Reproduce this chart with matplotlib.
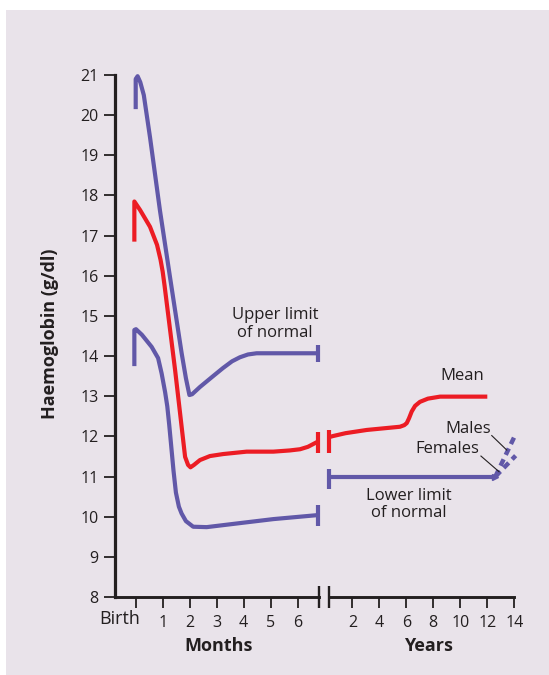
import matplotlib
matplotlib.use("Agg")
import matplotlib.pyplot as plt
from matplotlib.patches import Rectangle

plt.rcParams['font.family'] = ['Open Sans', 'DejaVu Sans']

# ---------------- data ----------------
# Months segment (month, g/dl)
upper_m = [0.0, 0.0, 0.07, 0.17, 0.30, 0.53, 0.90, 1.27, 1.70, 1.86, 1.99, 2.09, 2.38,
           2.83, 3.23, 3.57, 3.86, 4.16, 4.48, 6.75]
upper_v = [20.15, 20.90, 20.97, 20.82, 20.50, 19.45, 17.62, 15.97, 14.08, 13.45, 13.03, 13.05,
           13.23, 13.48, 13.70, 13.87, 13.97, 14.04, 14.07, 14.07]

mean_m = [-0.05, -0.05, 0.16, 0.53, 0.79, 0.92, 1.00, 1.07, 1.46, 1.83, 1.94, 2.03, 2.16,
          2.38, 2.75, 3.24, 4.11, 5.10, 5.71, 6.09, 6.38, 6.75]
mean_v = [16.85, 17.85, 17.64, 17.22, 16.77, 16.40, 16.10, 15.75, 13.65, 11.49, 11.29, 11.23,
          11.29, 11.41, 11.51, 11.56, 11.62, 11.62, 11.65, 11.68, 11.74, 11.87]

lower_m = [-0.05, -0.05, 0.01, 0.23, 0.59, 0.83, 0.96, 1.09, 1.17, 1.24, 1.31, 1.40, 1.49,
           1.60, 1.70, 1.86, 2.13, 2.63, 3.86, 5.10, 6.75]
lower_v = [13.75, 14.65, 14.67, 14.53, 14.23, 13.95, 13.57, 13.10, 12.75, 12.30, 11.80, 11.15,
           10.60, 10.25, 10.08, 9.89, 9.75, 9.74, 9.84, 9.94, 10.04]

# Years segment (year, g/dl)
mean_y = [0.25, 0.59, 1.5, 3.07, 5.53, 5.85, 6.03, 6.20, 6.40, 6.65, 7.01, 7.6, 8.5, 12.0]
mean_yv = [11.98, 12.01, 12.08, 12.16, 12.24, 12.28, 12.33, 12.45, 12.62, 12.76, 12.86, 12.94,
           12.99, 12.99]

lower_y = [0.25, 12.55]
lower_yv = [11.0, 11.0]

males_y = [12.6, 14.02]
males_v = [11.0, 12.0]
females_y = [12.6, 14.1]
females_v = [11.0, 11.52]

month_ticks = [0, 1, 2, 3, 4, 5, 6]
month_labels = ['', '1', '2', '3', '4', '5', '6']
year_ticks = [2, 4, 6, 8, 10, 12, 14]
y_ticks = list(range(8, 22))

# ---------------- style ----------------
BLUE = '#6158a8'
RED = '#ec1c24'
DARK = '#231f20'
BG = '#e9e3ea'
LW = 3.0

fig = plt.figure(figsize=(5.49, 6.75), dpi=100)
fig.patch.set_facecolor('white')
fig.patches.append(Rectangle((6 / 549, 0), 1, 1 - 10 / 675, transform=fig.transFigure,
                             facecolor=BG, edgecolor='none', zorder=-10))

bottom = 78 / 675
height = 522 / 675
axL = fig.add_axes([115 / 549, bottom, 203.7 / 549, height])
axR = fig.add_axes([328.7 / 549, bottom, 185.6 / 549, height])

for ax in (axL, axR):
    ax.set_facecolor('none')
    ax.set_ylim(8, 21)
    for s in ('top', 'right'):
        ax.spines[s].set_visible(False)
    ax.spines['bottom'].set_linewidth(2.1)
    ax.spines['bottom'].set_color(DARK)
    ax.tick_params(axis='x', length=8, width=1.3, color=DARK, pad=5,
                   labelsize=11.5, labelcolor=DARK)

axL.set_xlim(-0.767, 6.78)
axR.set_xlim(0.25, 14.0)

axL.spines['left'].set_linewidth(2.3)
axL.spines['left'].set_color(DARK)
axL.set_yticks(y_ticks)
axL.tick_params(axis='y', length=8, width=1.3, color=DARK, pad=4, labelsize=11.5,
                labelcolor=DARK)
axR.spines['left'].set_visible(False)
axR.set_yticks([])

axL.set_xticks(month_ticks)
axL.set_xticklabels(month_labels)
axR.set_xticks(year_ticks)

# Birth label
axL.text(0.18, -0.042, 'Birth', transform=axL.get_xaxis_transform(), ha='right',
         va='center', fontsize=13, color=DARK)

# axis break marks
for ax, xa in ((axL, 1.0), (axR, 0.0)):
    ax.plot([xa, xa], [-0.021, 0.021], transform=ax.transAxes, color=DARK, lw=1.7,
            clip_on=False, solid_capstyle='butt')

# curves - months
kw = dict(lw=LW, solid_capstyle='butt', solid_joinstyle='round', clip_on=False)
axL.plot(upper_m, upper_v, color=BLUE, **kw)
axL.plot(mean_m, mean_v, color=RED, **kw)
axL.plot(lower_m, lower_v, color=BLUE, **kw)

# end caps months side
axL.plot([upper_m[-1]] * 2, [upper_v[-1] - 0.21, upper_v[-1] + 0.21], color=BLUE, **kw)
axL.plot([mean_m[-1]] * 2, [mean_v[-1] - 0.29, mean_v[-1] + 0.25], color=RED, **kw)
axL.plot([lower_m[-1]] * 2, [lower_v[-1] - 0.27, lower_v[-1] + 0.25], color=BLUE, **kw)

# curves - years
axR.plot(mean_y, mean_yv, color=RED, **kw)
axR.plot(lower_y, lower_yv, color=BLUE, **kw)
axR.plot([mean_y[0]] * 2, [mean_yv[0] - 0.4, mean_yv[0] + 0.18], color=RED, **kw)
axR.plot([lower_y[0]] * 2, [lower_yv[0] - 0.32, lower_yv[0] + 0.2], color=BLUE, **kw)
axR.plot([lower_y[-1]], [lower_yv[-1]], marker='>', ms=5, color=BLUE, clip_on=False)

dkw = dict(lw=3.2, linestyle=(0, (1.6, 1.1)), dash_capstyle='butt', clip_on=False)
axR.plot(males_y, males_v, color=BLUE, **dkw)
axR.plot(females_y, females_v, color=BLUE, **dkw)

# leader lines
axR.plot([12.33, 13.44], [12.02, 11.66], color=DARK, lw=0.8, clip_on=False)
axR.plot([11.53, 12.87], [11.51, 11.12], color=DARK, lw=0.8, clip_on=False)

# annotations
tkw = dict(fontsize=12, color=DARK)
axL.text(5.16, 14.80, 'Upper limit\nof normal', ha='center', va='center',
         linespacing=1.15, **tkw)
axR.text(10.13, 13.50, 'Mean', ha='center', va='center', **tkw)
axR.text(12.27, 12.18, 'Males', ha='right', va='center', **tkw)
axR.text(11.38, 11.69, 'Females', ha='right', va='center', **tkw)
axR.text(6.20, 10.30, 'Lower limit\nof normal', ha='center', va='center',
         linespacing=1.1, **tkw)

# axis titles
fig.text(219 / 549, 1 - 646 / 675, 'Months', ha='center', va='center', fontsize=13,
         fontweight='bold', color=DARK)
fig.text(428 / 549, 1 - 646 / 675, 'Years', ha='center', va='center', fontsize=13,
         fontweight='bold', color=DARK)
fig.text(50 / 549, 1 - 334 / 675, 'Haemoglobin (g/dl)', ha='center', va='center',
         rotation=90, fontsize=13, fontweight='bold', color=DARK)

fig.savefig('out.png', dpi=100, facecolor=fig.get_facecolor())
